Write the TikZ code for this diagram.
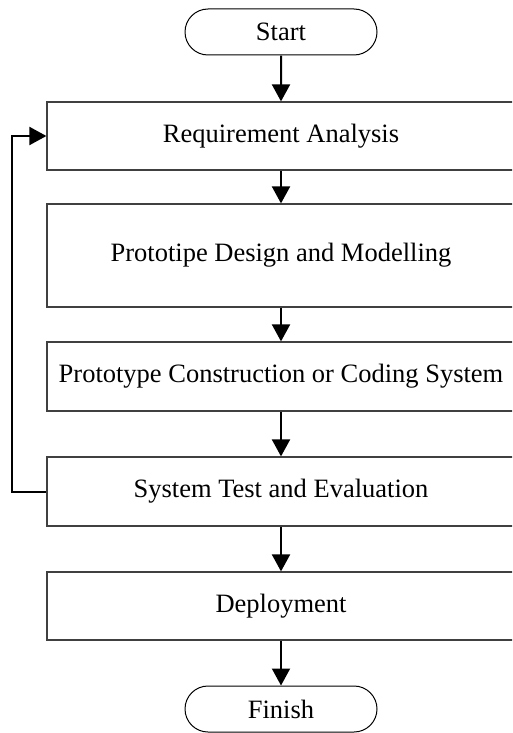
\documentclass[tikz,border=0pt]{standalone}
\usepackage{fontspec}
\setmainfont{Liberation Serif}
\usetikzlibrary{arrows.meta,shapes.misc}
\begin{document}
\begin{tikzpicture}[x=1pt,y=-1pt,
  every node/.style={font=\fontsize{26.5}{30}\selectfont, inner sep=0pt},
  stepbox/.style={draw=black!75, line width=1.2pt, rectangle,
    minimum width=468pt},
  terminal/.style={draw=black, line width=1pt, rounded rectangle,
    minimum width=192pt, minimum height=46pt},
  flow/.style={draw=black, line width=2pt,
    -{Triangle[width=18pt,length=17pt]}}
]
\useasboundingbox (0,0) rectangle (512,733);
\clip (0,0) rectangle (512,733);

% terminals and process steps
\node[terminal] (start) at (281,32) {Start};
\node[stepbox, minimum height=68pt] (req) at (281,136) {Requirement Analysis};
\node[stepbox, minimum height=103pt] (design) at (281,255.5) {Prototipe Design and Modelling};
\node[stepbox, minimum height=69pt] (build) at (281,376.5) {Prototype Construction or Coding System};
\node[stepbox, minimum height=69pt] (test) at (281,491.5) {System Test and Evaluation};
\node[stepbox, minimum height=68pt] (deploy) at (281,606) {Deployment};
\node[terminal] (finish) at (281,709) {Finish};

% main flow
\draw[flow] (start) -- (req);
\draw[flow] (req) -- (design);
\draw[flow] (design) -- (build);
\draw[flow] (build) -- (test);
\draw[flow] (test) -- (deploy);
\draw[flow] (deploy) -- (finish);

% feedback loop from testing back to requirements
\coordinate (loopbottom) at (12,491.5);
\coordinate (looptop) at (12,136);
\draw[flow] (test.west) -- (loopbottom) -- (looptop) -- (req.west);
\end{tikzpicture}
\end{document}
